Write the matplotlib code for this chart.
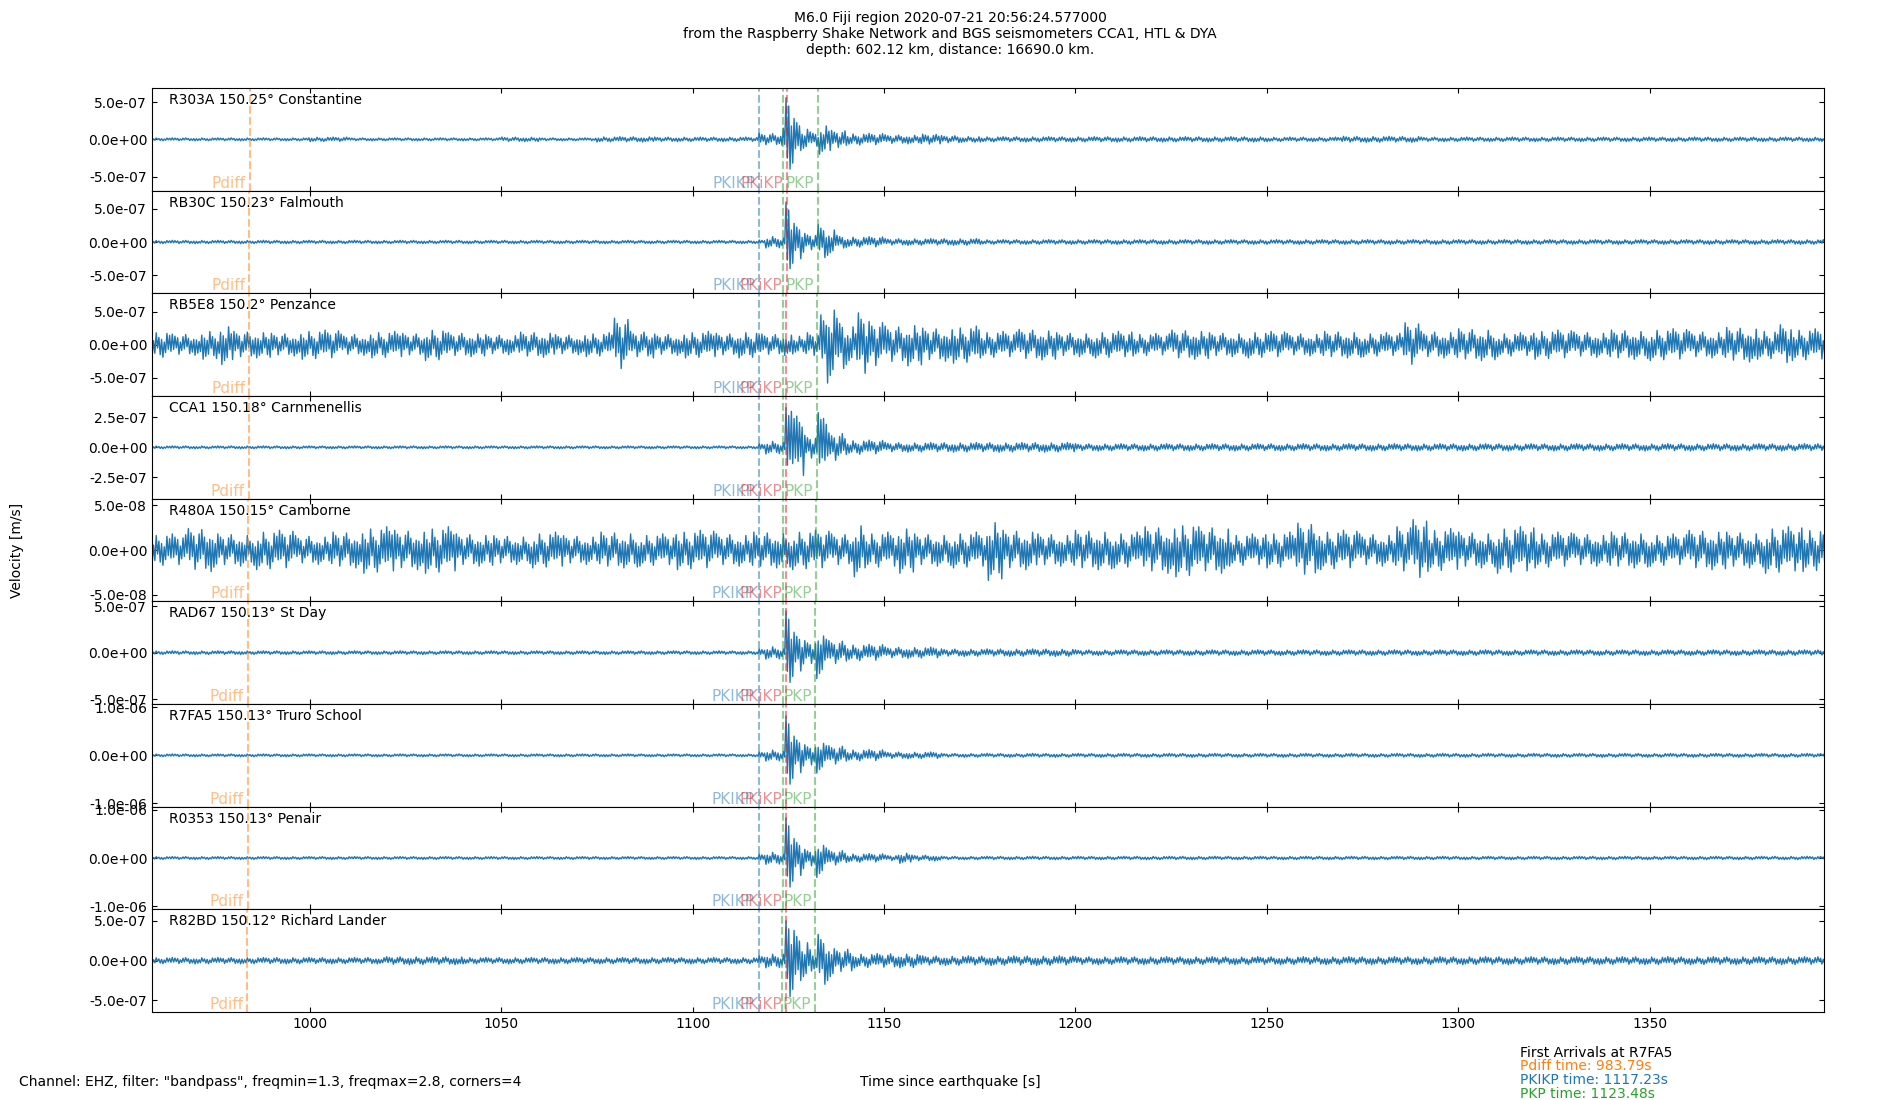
import numpy as np
import matplotlib
matplotlib.use("Agg")
import matplotlib.pyplot as plt
from matplotlib.ticker import FormatStrFormatter

# ── Stations (top to bottom) ────────────────────────────────
STATIONS = ["R303A", "RB30C", "RB5E8", "CCA1", "R480A", "RAD67", "R7FA5", "R0353", "R82BD"]
DISTANCES = ["150.25", "150.23", "150.2", "150.18", "150.15", "150.13", "150.13", "150.13", "150.12"]
PLACES = ["Constantine", "Falmouth", "Penzance", "Carnmenellis", "Camborne",
          "St Day", "Truro School", "Penair", "Richard Lander"]

# y-limits and y-tick step, in 1e-7 m/s
YLIMS = [6.9, 7.7, 7.75, 4.27, 0.574, 5.53, 10.7, 10.6, 6.45]
YSTEPS = [5, 5, 5, 2.5, 0.5, 5, 10, 10, 5]

# arrival times per station [s since origin]
PDIFF = [984.34, 984.25, 984.11, 984.02, 983.88, 983.79, 983.79, 983.79, 983.74]
PKIKP = [1117.46, 1117.42, 1117.36, 1117.32, 1117.27, 1117.23, 1117.23, 1117.23, 1117.21]
PKP_1 = [1123.71, 1123.67, 1123.61, 1123.57, 1123.52, 1123.48, 1123.48, 1123.48, 1123.46]
PKiKP = [1124.58, 1124.54, 1124.48, 1124.44, 1124.39, 1124.35, 1124.35, 1124.35, 1124.33]
PKP_2 = [1132.80, 1132.68, 1132.50, 1132.38, 1132.20, 1132.08, 1132.08, 1132.08, 1132.02]

# trace envelopes: knot times [s] and peak amplitude [1e-7 m/s]
R303A_T = [958, 1000, 1010, 1050, 1060, 1075, 1090, 1117.4, 1123.6, 1124.3, 1125.2, 1126.5,
           1128, 1130.5, 1133, 1136, 1140, 1150, 1160, 1165, 1170, 1175, 1250, 1270, 1290]
R303A_A = [0.2, 0.3, 0.2, 0.3, 0.2, 0.35, 0.3, 0.8, 1.5, 5.6, 4.0, 2.8,
           1.5, 1.0, 2.0, 1.2, 0.8, 0.6, 0.7, 0.5, 0.4, 0.35, 0.3, 0.4, 0.3]

RB30C_T = [958, 1117.4, 1119, 1123.6, 1124.3, 1125.3, 1126.5, 1129, 1132.6, 1135, 1137.6,
           1140, 1150, 1175]
RB30C_A = [0.25, 0.3, 0.9, 0.6, 6.0, 4.0, 2.8, 1.3, 2.6, 2.0, 1.0, 0.8, 0.5, 0.35]

RB5E8_T = [958, 964, 972, 977, 980, 990, 998, 1008, 1016, 1024, 1030, 1036, 1046, 1055, 1064,
           1072, 1079.5, 1083.5, 1090, 1098, 1106, 1112, 1118, 1126, 1130, 1133.5, 1135, 1137.5,
           1140, 1143, 1146, 1150, 1156, 1160, 1168, 1175, 1185, 1195, 1205, 1215, 1225, 1235,
           1245, 1255, 1265, 1275, 1286, 1290, 1300, 1310, 1320, 1330, 1340, 1350, 1360, 1370,
           1378, 1384, 1387]
RB5E8_A = [2.0, 1.6, 2.2, 3.0, 2.0, 1.7, 2.2, 1.6, 2.0, 1.7, 2.4, 1.8, 1.5, 1.9, 1.5,
           1.8, 4.0, 2.0, 1.6, 2.0, 1.7, 2.0, 1.6, 1.4, 1.8, 4.5, 5.8, 4.0,
           3.0, 4.8, 3.5, 2.8, 3.2, 2.5, 2.8, 2.0, 2.3, 1.8, 2.0, 1.7, 2.2, 1.8,
           2.0, 1.7, 2.0, 1.8, 3.3, 2.0, 2.4, 1.8, 2.2, 1.9, 2.2, 2.4, 2.0, 2.6,
           2.2, 3.0, 2.4]

CCA1_T = [958, 1117.3, 1119, 1123.6, 1124.4, 1125.5, 1127, 1129, 1132.8, 1134, 1135.5,
          1140, 1150, 1200]
CCA1_A = [0.12, 0.3, 0.55, 0.4, 3.3, 3.0, 2.6, 1.0, 2.9, 2.4, 1.2, 0.6, 0.4, 0.3]

R480A_T = [958, 968, 976, 986, 996, 1006, 1014, 1022, 1030, 1038, 1048, 1058, 1066, 1076,
           1086, 1096, 1106, 1116, 1126, 1136, 1142, 1145, 1154, 1158, 1168, 1177, 1181,
           1190, 1200, 1210, 1218, 1226, 1232, 1240, 1250, 1258, 1264, 1274, 1284, 1288,
           1292, 1300, 1310, 1320, 1330, 1340, 1350, 1360, 1370, 1380, 1390]
R480A_A = [0.18, 0.24, 0.18, 0.22, 0.16, 0.2, 0.26, 0.22, 0.26, 0.18, 0.16, 0.2, 0.16, 0.2,
           0.18, 0.22, 0.18, 0.2, 0.22, 0.18, 0.3, 0.2, 0.26, 0.18, 0.2, 0.34, 0.22,
           0.18, 0.22, 0.2, 0.26, 0.3, 0.26, 0.18, 0.2, 0.3, 0.22, 0.18, 0.26, 0.34,
           0.24, 0.2, 0.26, 0.2, 0.18, 0.2, 0.18, 0.22, 0.2, 0.26, 0.24]

RAD67_T = [958, 1117.3, 1119, 1123.5, 1124.3, 1125.3, 1126.5, 1129, 1132.3, 1134, 1135.5,
           1140, 1150, 1165, 1200]
RAD67_A = [0.2, 0.4, 0.7, 0.4, 4.5, 3.2, 2.2, 1.3, 2.8, 1.8, 1.3, 0.9, 0.6, 0.4, 0.3]

R7FA5_T = [958, 1117.2, 1119, 1123.5, 1124.3, 1125.3, 1126.5, 1129, 1132.2, 1134, 1135.5,
           1140, 1150, 1165]
R7FA5_A = [0.3, 0.7, 1.2, 0.8, 8.2, 6.0, 4.0, 2.2, 3.7, 2.5, 2.0, 1.2, 0.7, 0.4]

R0353_T = [958, 1117.2, 1119, 1123.5, 1124.3, 1125.3, 1126.5, 1129, 1132.2, 1134, 1135.5,
           1140, 1150, 1154, 1157, 1165]
R0353_A = [0.3, 0.8, 1.3, 0.8, 8.3, 6.0, 4.0, 1.8, 4.0, 2.6, 1.6, 0.9, 0.6, 1.1, 0.6, 0.35]

R82BD_T = [958, 1020, 1040, 1117.2, 1119, 1123.4, 1124.2, 1125.2, 1126.5, 1128, 1131,
           1132.5, 1135, 1137, 1142, 1160, 1200]
R82BD_A = [0.4, 0.5, 0.4, 0.6, 0.9, 0.8, 5.0, 4.5, 3.8, 2.5, 1.3, 3.3, 2.5, 1.5, 0.9, 0.6, 0.5]

ENV_T = [R303A_T, RB30C_T, RB5E8_T, CCA1_T, R480A_T, RAD67_T, R7FA5_T, R0353_T, R82BD_T]
ENV_A = [R303A_A, RB30C_A, RB5E8_A, CCA1_A, R480A_A, RAD67_A, R7FA5_A, R0353_A, R82BD_A]

# ── Drawing settings ────────────────────────────────────────
X0, X1 = 958.8, 1395.5
HALF = 0.35                     # half oscillation period of the drawn wiggle [s]
TEXTURE = [1.0, 0.45, 0.8, 0.3, 0.65, 0.9, 0.25, 0.55, 0.75, 0.4,
           0.95, 0.2, 0.6, 0.85, 0.35, 0.7, 0.5]
UNIT = 1e-7

TITLE = ("M6.0 Fiji region 2020-07-21 20:56:24.577000\n"
         "from the Raspberry Shake Network and BGS seismometers CCA1, HTL & DYA\n"
         "depth: 602.12 km, distance: 16690.0 km.")


def wiggle(knot_t, knot_a):
    """Step envelope from the read knots, drawn as an alternating wiggle."""
    t = np.arange(X0 - 1, X1 + 1, HALF)
    kt = np.asarray(knot_t, float)
    ka = np.asarray(knot_a, float)
    seg = np.clip(np.searchsorted(kt, t, side="right") - 1, 0, None)
    pos = np.arange(len(t)) - np.searchsorted(t, kt[seg])
    tex = np.asarray(TEXTURE)[pos % len(TEXTURE)]
    sign = np.where(np.arange(len(t)) % 2 == 0, 1.0, -1.0)
    return t, ka[seg] * tex * sign * UNIT


def mark(ax, t, color, label=None):
    ax.axvline(t, color=color, linestyle="--", linewidth=1.5, alpha=0.5)
    if label:
        ax.text(t - 1.0, 0.0, label, color=color, alpha=0.5, fontsize=11,
                ha="right", va="bottom", transform=ax.get_xaxis_transform())


fig, axes = plt.subplots(len(STATIONS), 1, sharex=True, figsize=(19, 11), dpi=100)
fig.subplots_adjust(left=0.08, right=0.96, bottom=0.08, top=0.92, hspace=0)

for i, ax in enumerate(axes):
    t, y = wiggle(ENV_T[i], ENV_A[i])
    ax.plot(t, y, color="C0", linewidth=1.0)

    mark(ax, PDIFF[i], "C1", "Pdiff")
    mark(ax, PKIKP[i], "C0", "PKIKP")
    mark(ax, PKP_1[i], "C2")
    mark(ax, PKiKP[i], "C3", "PKiKP")
    mark(ax, PKP_2[i], "C2", "PKP")

    ax.text(0.01, 0.95, f"{STATIONS[i]} {DISTANCES[i]}° {PLACES[i]}",
            transform=ax.transAxes, va="top", fontsize=10)

    lim = YLIMS[i] * UNIT
    step = YSTEPS[i] * UNIT
    ax.set_ylim(-lim, lim)
    ax.set_yticks([-step, 0, step])
    ax.yaxis.set_major_formatter(FormatStrFormatter("%.1e"))
    ax.tick_params(direction="in", top=True, right=True)

axes[-1].set_xlim(X0, X1)
axes[-1].set_xticks(np.arange(1000, 1351, 50))

fig.suptitle(TITLE, fontsize=10, y=0.99)
fig.text(0.009, 0.5, "Velocity [m/s]", rotation=90, ha="center", va="center")
fig.text(0.01, 0.013, 'Channel: EHZ, filter: "bandpass", freqmin=1.3, freqmax=2.8, corners=4',
         va="baseline")
fig.text(0.5, 0.013, "Time since earthquake [s]", ha="center", va="baseline")

fig.text(0.8, 0.0395, "First Arrivals at R7FA5", va="baseline")
fig.text(0.8, 0.027, "Pdiff time: 983.79s", color="C1", va="baseline")
fig.text(0.8, 0.0145, "PKIKP time: 1117.23s", color="C0", va="baseline")
fig.text(0.8, 0.002, "PKP time: 1123.48s", color="C2", va="baseline")

fig.savefig("out.png")
